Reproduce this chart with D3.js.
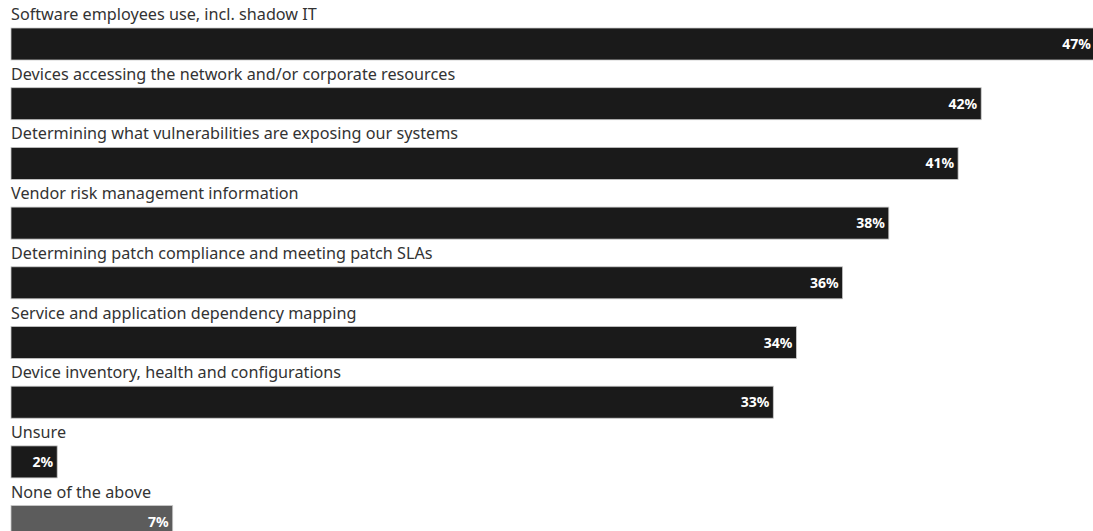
<!DOCTYPE html>
<html>
<head>
<meta charset="utf-8">
<script src="https://cdn.jsdelivr.net/npm/d3@7"></script>
<style>
  html, body { margin: 0; padding: 0; background: #fff; overflow: hidden; }
  svg { display: block; }
  .cat { font-family: "Noto Sans", "Open Sans", sans-serif; font-size: 16.2px; fill: #333; }
  .val { font-family: "Noto Sans", "Open Sans", sans-serif; font-size: 14px; font-weight: 700; fill: #fff; }
</style>
</head>
<body>
<svg id="chart" width="1093" height="531"></svg>
<script>
const categories = [
  "Software employees use, incl. shadow IT",
  "Devices accessing the network and/or corporate resources",
  "Determining what vulnerabilities are exposing our systems",
  "Vendor risk management information",
  "Determining patch compliance and meeting patch SLAs",
  "Service and application dependency mapping",
  "Device inventory, health and configurations",
  "Unsure",
  "None of the above"
];
const values = [47, 42, 41, 38, 36, 34, 33, 2, 7];
const barColors = ["#1a1a1a", "#1a1a1a", "#1a1a1a", "#1a1a1a", "#1a1a1a", "#1a1a1a", "#1a1a1a", "#1a1a1a", "#5c5c5c"];

const W = 1093, H = 531;
const left = 11;
const pxPerPoint = 23.1;
const rowStep = 59.7;
const barTop = 28, barH = 32, labelBase = 20;

const svg = d3.select("#chart");

const x = d3.scaleLinear().domain([0, 47]).range([left, left + 47 * pxPerPoint]);
const y = d3.scaleBand()
  .domain(categories)
  .range([0, rowStep * categories.length])
  .paddingInner(0).paddingOuter(0);

const rows = svg.selectAll("g.row")
  .data(categories.map((c, i) => ({ c, v: values[i], col: barColors[i] })))
  .join("g")
  .attr("class", "row")
  .attr("transform", d => `translate(0,${y(d.c)})`);

rows.append("text")
  .attr("class", "cat")
  .attr("x", left)
  .attr("y", labelBase)
  .text(d => d.c);

rows.append("rect")
  .attr("x", x(0))
  .attr("y", barTop)
  .attr("width", d => x(d.v) - x(0))
  .attr("height", barH)
  .attr("fill", d => d.col)
  .attr("stroke", "#c8c8c8")
  .attr("stroke-width", 0.8);

// value labels sit inside the bar end; keep the widest one on screen
rows.append("text")
  .attr("class", "val")
  .attr("x", d => Math.min(x(d.v) - 4, W - 2))
  .attr("y", barTop + barH / 2)
  .attr("dy", "0.36em")
  .attr("text-anchor", "end")
  .text(d => d.v + "%");
</script>
</body>
</html>
